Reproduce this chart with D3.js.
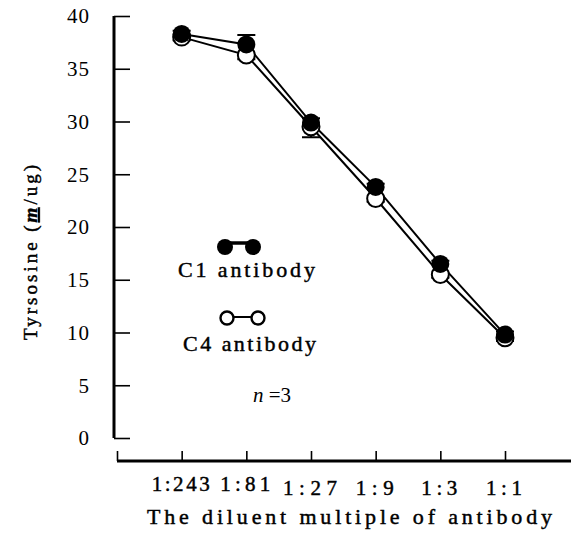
<!DOCTYPE html>
<html>
<head>
<meta charset="utf-8">
<script src="https://cdn.jsdelivr.net/npm/d3@7"></script>
<style>
  body { margin: 0; background: #fff; }
  .mono { font-family: "Liberation Serif", serif; fill: #000; stroke: #000; stroke-width: 0.45px; }
  .num { font-family: "Liberation Serif", serif; fill: #000; }
</style>
</head>
<body>
<svg id="chart" width="571" height="535"></svg>
<script>
// dilution categories, left to right
var dilutions = ['1:243', '1:81', '1:27', '1:9', '1:3', '1:1'];
// tyrosine
var c1Values = [38.3, 37.3, 29.9, 23.8, 16.5, 9.8];
var c1Errors = [0.3, 0.9, 0.4, 0.3, 0.3, 0.3];
var c4Values = [38.0, 36.3, 29.5, 22.7, 15.5, 9.5];
var c4Errors = [0.3, 0.4, 1.0, 0.3, 0.3, 0.3];
var yTicks = [0, 5, 10, 15, 20, 25, 30, 35, 40];

// widths of the wide monospaced labels in the figure
var labelWidths = [58, 50, 54, 38, 36, 36];

var svg = d3.select('#chart');

var x = d3.scaleLinear().domain([0, 6]).range([117, 505]);
var y = d3.scaleLinear().domain([0, 40]).range([438, 16]);

function series(vals, errs){
	return vals.map(function(v, i){ return {i: i + 1, v: v, e: errs[i]}; });
}
var c1 = series(c1Values, c1Errors),
	c4 = series(c4Values, c4Errors);

// y axis
var yAxis = svg.append('g').attr('transform', 'translate(114,0)')
	.call(d3.axisRight(y).tickValues(yTicks).tickSize(16).tickFormat(''));
yAxis.select('.domain').attr('d', 'M0,' + y(40) + 'V' + y(0)).style('stroke-width', 3);
yAxis.selectAll('.tick line').style('stroke-width', 1.6);

svg.append('g').selectAll('text')
	.data(yTicks)
	.join('text')
		.attr('class', 'num')
		.attr('x', 90)
		.attr('y', function(d){ return y(d); })
		.attr('dy', '0.35em')
		.attr('text-anchor', 'end')
		.style('font-size', '21px')
		.style('letter-spacing', '1px')
		.text(function(d){ return d; });

// x axis, ticks pointing up
var xAxis = svg.append('g').attr('transform', 'translate(0,461)')
	.call(d3.axisTop(x).tickValues(d3.range(0, 7)).tickSize(10).tickFormat(''));
xAxis.select('.domain').attr('d', 'M' + x(0) + ',0H571').style('stroke-width', 3);
xAxis.selectAll('.tick line').style('stroke-width', 1.6);

svg.append('g').selectAll('text')
	.data(dilutions)
	.join('text')
		.attr('class', 'mono')
		.attr('x', function(d, i){ return x(i + 1) - labelWidths[i] / 2 - 1; })
		.attr('y', function(d, i){ return i < 2 ? 491 : 495; })
		.attr('textLength', function(d, i){ return labelWidths[i]; })
		.attr('lengthAdjust', 'spacing')
		.style('font-size', '21px')
		.text(function(d){ return d; });

svg.append('text')
	.attr('class', 'mono')
	.attr('x', 147)
	.attr('y', 524)
	.attr('textLength', 405)
	.attr('lengthAdjust', 'spacing')
	.style('font-size', '22px')
	.text('The diluent multiple of antibody');

// y title
var yt = svg.append('text')
	.attr('class', 'mono')
	.attr('transform', 'translate(37,340) rotate(-90)')
	.attr('textLength', 175)
	.attr('lengthAdjust', 'spacing')
	.style('font-size', '19px');
yt.append('tspan').text('Tyrsosine (');
yt.append('tspan').style('font-weight', 'bold').style('font-style', 'italic').style('text-decoration', 'underline').text('m');
yt.append('tspan').text('/ug)');

var line = d3.line()
	.x(function(d){ return x(d.i); })
	.y(function(d){ return y(d.v); });

// C4 (open) drawn first, C1 (filled) on top
svg.append('path').datum(c4).attr('d', line)
	.style('fill', 'none').style('stroke', '#000').style('stroke-width', 2);
svg.append('path').datum(c1).attr('d', line)
	.style('fill', 'none').style('stroke', '#000').style('stroke-width', 2);

// error caps: C4 below, C1 above
svg.append('g').selectAll('path')
	.data(c4)
	.join('path')
		.attr('d', function(d){ return 'M' + x(d.i) + ',' + y(d.v) + 'V' + y(d.v - d.e) + 'M' + (x(d.i) - 9) + ',' + y(d.v - d.e) + 'H' + (x(d.i) + 9); })
		.style('stroke', '#000').style('stroke-width', 2);
svg.append('g').selectAll('path')
	.data(c1)
	.join('path')
		.attr('d', function(d){ return 'M' + x(d.i) + ',' + y(d.v) + 'V' + y(d.v + d.e) + 'M' + (x(d.i) - 9) + ',' + y(d.v + d.e) + 'H' + (x(d.i) + 9); })
		.style('stroke', '#000').style('stroke-width', 2);

svg.append('g').selectAll('circle')
	.data(c4)
	.join('circle')
		.attr('cx', function(d){ return x(d.i); })
		.attr('cy', function(d){ return y(d.v); })
		.attr('r', 8.5)
		.style('fill', '#fff').style('stroke', '#000').style('stroke-width', 2);
svg.append('g').selectAll('circle')
	.data(c1)
	.join('circle')
		.attr('cx', function(d){ return x(d.i); })
		.attr('cy', function(d){ return y(d.v); })
		.attr('r', 9)
		.style('fill', '#000');

// legend
var leg = svg.append('g');
leg.append('path').attr('d', 'M225,243H253').style('stroke', '#000').style('stroke-width', 3.5);
leg.selectAll('circle.f').data([225, 253]).join('circle')
	.attr('cx', function(d){ return d; }).attr('cy', 247).attr('r', 8)
	.style('fill', '#000');
leg.append('text').attr('class', 'mono').attr('x', 178).attr('y', 277)
	.attr('textLength', 137).attr('lengthAdjust', 'spacing')
	.style('font-size', '22px').text('C1 antibody');

leg.append('path').attr('d', 'M234,317H251').style('stroke', '#000').style('stroke-width', 2);
leg.selectAll('circle.o').data([227, 258]).join('circle')
	.attr('cx', function(d){ return d; }).attr('cy', 318).attr('r', 6.5)
	.style('fill', '#fff').style('stroke', '#000').style('stroke-width', 2.4);
leg.append('text').attr('class', 'mono').attr('x', 183).attr('y', 351)
	.attr('textLength', 133).attr('lengthAdjust', 'spacing')
	.style('font-size', '22px').text('C4 antibody');

var nt = leg.append('text').attr('class', 'num').attr('x', 253).attr('y', 402)
	.style('font-size', '21px');
nt.append('tspan').style('font-style', 'italic').text('n');
nt.append('tspan').text(' =3');
</script>
</body>
</html>
